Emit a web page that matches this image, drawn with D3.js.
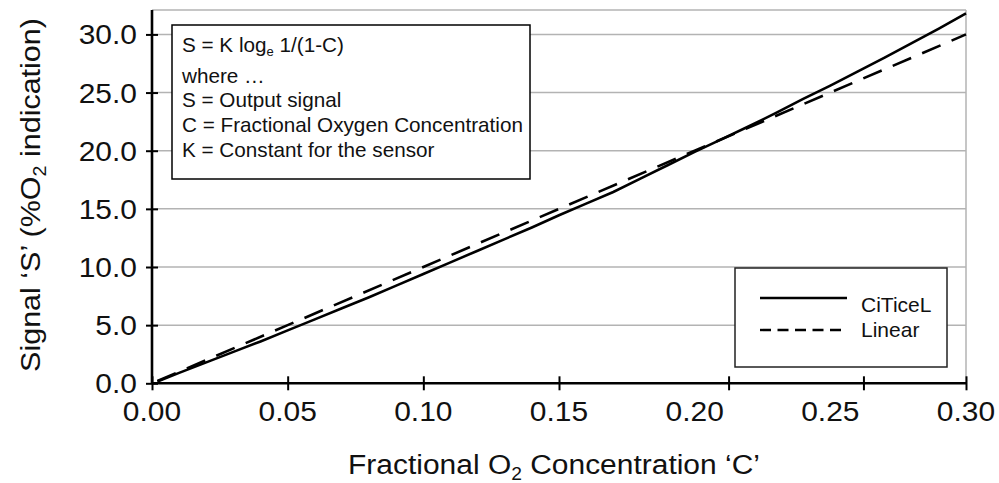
<!DOCTYPE html>
<html><head><meta charset="utf-8">
<script src="https://cdn.jsdelivr.net/npm/d3@7"></script>
<style>
html,body{margin:0;padding:0;background:#fff;}
svg{display:block;font-family:"Liberation Sans",Arial,Helvetica,sans-serif;}
</style></head>
<body>
<svg id="chart" width="999" height="483"></svg>
<script>
// ---- data ----
const citicelC = [0.002,0.01,0.02,0.03,0.04,0.05,0.06,0.07,0.08,0.09,0.10,0.11,0.12,0.13,0.14,0.15,0.16,0.17,0.18,0.19,0.20,0.21,0.22,0.23,0.24,0.25,0.26,0.27,0.28,0.29,0.30];
const citicelS = [0.15,0.9,1.8,2.7,3.6,4.55,5.5,6.45,7.4,8.4,9.4,10.4,11.4,12.4,13.4,14.45,15.45,16.45,17.6,18.75,19.9,21.0,22.1,23.25,24.45,25.6,26.8,28.0,29.25,30.5,31.8];
const linearC = [0.002,0.05,0.10,0.15,0.20,0.25,0.30];
const linearS = [0.2,5.0,10.0,15.0,20.0,25.0,30.0];
const xTickLabels = [0,0.05,0.10,0.15,0.20,0.25,0.30];
const xTickMarks = [0,0.05,0.10,0.15,0.2125,0.2622,0.30];
const yTickValues = [0,5,10,15,20,25,30];
const seriesNames = ["CiTiceL","Linear"];
const boxLines = ["where \u2026","S = Output signal","C = Fractional Oxygen Concentration","K = Constant for the sensor"];

// ---- layout ----
const svg = d3.select("#chart");
const x = d3.scaleLinear().domain([0,0.30]).range([152,966]);
const y = d3.scaleLinear().domain([0,32.1]).range([383.3,10]);
const fmtX = d3.format(".2f"), fmtY = d3.format(".1f");
const FS = 28, TXT_S = 1.07;

// gridlines
svg.append("g").selectAll("line").data(yTickValues.filter(v=>v>0)).join("line")
  .attr("x1",x(0)).attr("x2",x(0.30)).attr("y1",d=>y(d)).attr("y2",d=>y(d))
  .attr("stroke","#b3b3b3").attr("stroke-width",1.5);
// plot border top & right
svg.append("line").attr("x1",x(0)).attr("x2",x(0.30)).attr("y1",y(32.1)).attr("y2",y(32.1))
  .attr("stroke","#b3b3b3").attr("stroke-width",1.5);
svg.append("line").attr("x1",x(0.30)).attr("x2",x(0.30)).attr("y1",y(32.1)).attr("y2",y(0))
  .attr("stroke","#b3b3b3").attr("stroke-width",1.5);

// curves
const lineGen = d3.line().x(d=>x(d[0])).y(d=>y(d[1]));
svg.append("path").datum(linearC.map((c,i)=>[c,linearS[i]]))
  .attr("d",lineGen).attr("fill","none").attr("stroke","#000").attr("stroke-width",2.6)
  .attr("stroke-dasharray","20,12");
svg.append("path").datum(citicelC.map((c,i)=>[c,citicelS[i]]))
  .attr("d",lineGen).attr("fill","none").attr("stroke","#000").attr("stroke-width",2.6);

// axes
const yAxis = d3.axisLeft(y).tickValues(yTickValues).tickSize(6).tickFormat("");
const gy = svg.append("g").attr("transform",`translate(${x(0)},0)`).call(yAxis);
gy.select(".domain").attr("d",`M0,${y(32.1)}V${y(0)}`).attr("stroke","#000").attr("stroke-width",2.6);
gy.selectAll(".tick line").attr("x1",-6).attr("x2",6).attr("stroke","#000").attr("stroke-width",2);

const xAxis = d3.axisBottom(x).tickValues(xTickMarks).tickSize(7).tickFormat("");
const gx = svg.append("g").attr("transform",`translate(0,${y(0)})`).call(xAxis);
gx.select(".domain").attr("d",`M${x(0)},0H${x(0.30)}`).attr("stroke","#000").attr("stroke-width",2.6);
gx.selectAll(".tick line").attr("y1",-7).attr("y2",7).attr("stroke","#000").attr("stroke-width",2);

// tick labels
svg.append("g").selectAll("text").data(yTickValues).join("text")
  .attr("transform",d=>`translate(137,${y(d)+10}) scale(${TXT_S},1)`)
  .attr("text-anchor","end").attr("font-size",FS).attr("fill","#111").text(d=>fmtY(d));
svg.append("g").selectAll("text").data(xTickLabels).join("text")
  .attr("transform",d=>`translate(${x(d)},421) scale(${TXT_S},1)`)
  .attr("text-anchor","middle").attr("font-size",FS).attr("fill","#111").text(d=>fmtX(d));

// axis titles
const xt = svg.append("text").attr("transform",`translate(554,474) scale(${TXT_S},1)`)
  .attr("text-anchor","middle").attr("font-size",FS).attr("fill","#111");
xt.append("tspan").text("Fractional O");
xt.append("tspan").attr("font-size",18).attr("dy",6).text("2");
xt.append("tspan").attr("dy",-6).text(" Concentration \u2018C\u2019");

const yt = svg.append("text").attr("transform",`translate(40,195) rotate(-90) scale(1.09,1)`)
  .attr("text-anchor","middle").attr("font-size",FS).attr("fill","#111");
yt.append("tspan").text("Signal \u2018S\u2019 (%O");
yt.append("tspan").attr("font-size",18).attr("dy",6).text("2");
yt.append("tspan").attr("dy",-6).text(" indication)");

// formula box
svg.append("rect").attr("x",172).attr("y",25).attr("width",358).attr("height",154)
  .attr("fill","#fff").attr("stroke","#000").attr("stroke-width",1.5);
const f = svg.append("text").attr("x",182).attr("y",52).attr("font-size",20.7).attr("fill","#111");
f.append("tspan").text("S = K log");
f.append("tspan").attr("font-size",13).attr("dy",4).text("e");
f.append("tspan").attr("dy",-4).text(" 1/(1-C)");
const boxY = [83,107,132,157];
svg.append("g").selectAll("text").data(boxLines).join("text")
  .attr("x",182).attr("y",(d,i)=>boxY[i]).attr("font-size",20.7).attr("fill","#111").text(d=>d);

// legend
svg.append("rect").attr("x",735).attr("y",268).attr("width",212).attr("height",99)
  .attr("fill","#fff").attr("stroke","#222").attr("stroke-width",1.5);
const legY = [298,330];
const leg = svg.append("g").selectAll("g").data(seriesNames).join("g");
leg.append("line").attr("x1",760).attr("x2",847).attr("y1",(d,i)=>legY[i]).attr("y2",(d,i)=>legY[i])
  .attr("stroke","#000").attr("stroke-width",2.4)
  .attr("stroke-dasharray",(d,i)=>i===1?"11,6.5":null);
leg.append("text").attr("x",861).attr("y",(d,i)=>i===0?312:337)
  .attr("font-size",21).attr("fill","#111").text(d=>d);
</script>
</body></html>
